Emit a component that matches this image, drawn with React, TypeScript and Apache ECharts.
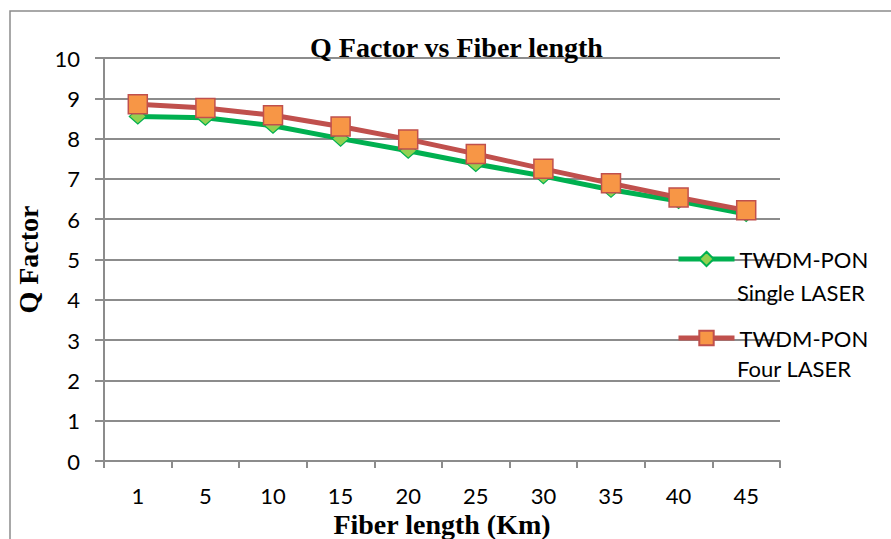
import React, { useEffect, useRef } from "react";
import * as echarts from "echarts";

// Fiber lengths (Km) on the category axis
const fiberLengths = ["1", "5", "10", "15", "20", "25", "30", "35", "40", "45"];

// Q factor for the single-laser TWDM-PON setup
const singleLaserQ = [8.55, 8.52, 8.32, 8.0, 7.7, 7.37, 7.07, 6.73, 6.45, 6.13];

// Q factor for the four-laser TWDM-PON setup
const fourLaserQ = [8.85, 8.76, 8.58, 8.3, 7.98, 7.62, 7.25, 6.89, 6.54, 6.22];

// Legend entries wrap onto two lines: first line beside the icon, second below it
const seriesNames = ["TWDM-PON\nSingle LASER", "TWDM-PON\nFour LASER"];

const SERIF = "'Liberation Serif', 'Times New Roman', serif";
const SANS = "Lato, 'Open Sans', sans-serif";
const GRID_GREY = "#8c8c8c";

const LEGEND_LEFT = 676;
const LEGEND_ICON_W = 56;
const LEGEND_ICON_H = 18;
const LEGEND_ROWS = [259, 338];
const LEGEND_SECOND_LINE = [292, 368];

export default function App() {
  const ref = useRef<HTMLDivElement>(null);

  useEffect(() => {
    if (!ref.current) return;
    const chart = echarts.init(ref.current, undefined, { renderer: "svg" });

    const legendText = {
      fontFamily: SANS,
      fontSize: 22,
      color: "#000",
      lineHeight: 26,
    };

    const legends = seriesNames.map((name, i) => ({
      data: [name],
      orient: "vertical",
      left: LEGEND_LEFT,
      top: LEGEND_ROWS[i] - 13,
      padding: 0,
      itemWidth: LEGEND_ICON_W,
      itemHeight: LEGEND_ICON_H,
      lineStyle: { width: 5 },
      formatter: (n: string) => n.split("\n")[0],
      textStyle: legendText,
    }));

    const legendSecondLines = seriesNames.map((name, i) => ({
      type: "text",
      silent: true,
      z: 100,
      x: LEGEND_LEFT + LEGEND_ICON_W + 5,
      y: LEGEND_SECOND_LINE[i],
      style: {
        text: name.split("\n")[1],
        fontFamily: SANS,
        fontSize: 22,
        fill: "#000",
        textAlign: "left",
        textVerticalAlign: "middle",
      },
    }));

    chart.setOption({
      animation: false,
      backgroundColor: "#fff",
      title: {
        text: "Q Factor vs Fiber length",
        left: 310,
        top: 33,
        padding: 0,
        textStyle: { fontFamily: SERIF, fontWeight: "bold", fontSize: 28, color: "#000" },
      },
      graphic: [
        {
          type: "rect",
          z: -1,
          silent: true,
          shape: { x: 10, y: 11, width: 1000, height: 1000 },
          style: { fill: "none", stroke: GRID_GREY, lineWidth: 1.5 },
        },
        ...legendSecondLines,
      ],
      legend: legends,
      grid: { left: 104, right: 111, top: 58, bottom: 78, outerBoundsMode: "none" },
      xAxis: {
        type: "category",
        data: fiberLengths,
        boundaryGap: true,
        name: "Fiber length (Km)",
        nameLocation: "middle",
        nameGap: 47,
        nameTextStyle: { fontFamily: SERIF, fontWeight: "bold", fontSize: 28, color: "#000" },
        axisLine: { lineStyle: { color: GRID_GREY, width: 2 } },
        axisTick: { show: true, length: 7, lineStyle: { color: GRID_GREY, width: 2 } },
        axisLabel: { fontFamily: SANS, fontSize: 22, color: "#000", margin: 23 },
      },
      yAxis: {
        type: "value",
        min: 0,
        max: 10,
        interval: 1,
        name: "Q Factor",
        nameLocation: "middle",
        nameGap: 62,
        nameTextStyle: { fontFamily: SERIF, fontWeight: "bold", fontSize: 28, color: "#000" },
        axisLine: { show: true, lineStyle: { color: GRID_GREY, width: 2 } },
        axisTick: { show: true, length: 9, lineStyle: { color: GRID_GREY, width: 2 } },
        axisLabel: { fontFamily: SANS, fontSize: 22, color: "#000", margin: 24 },
        splitLine: { show: true, lineStyle: { color: GRID_GREY, width: 2 } },
      },
      series: [
        {
          name: seriesNames[0],
          type: "line",
          data: singleLaserQ,
          symbol: "diamond",
          symbolSize: [17, 15],
          lineStyle: { color: "#00B050", width: 5 },
          itemStyle: { color: "#92D050", borderColor: "#00B050", borderWidth: 1.2 },
          z: 2,
        },
        {
          name: seriesNames[1],
          type: "line",
          data: fourLaserQ,
          symbol: "rect",
          symbolSize: 19,
          lineStyle: { color: "#C0504D", width: 5 },
          itemStyle: { color: "#F79646", borderColor: "#C0504D", borderWidth: 1.5 },
          z: 3,
        },
      ],
    });

    return () => chart.dispose();
  }, []);

  return (
    <div
      ref={ref}
      style={{ position: "absolute", left: 0, top: 0, width: 891, height: 539 }}
    />
  );
}
